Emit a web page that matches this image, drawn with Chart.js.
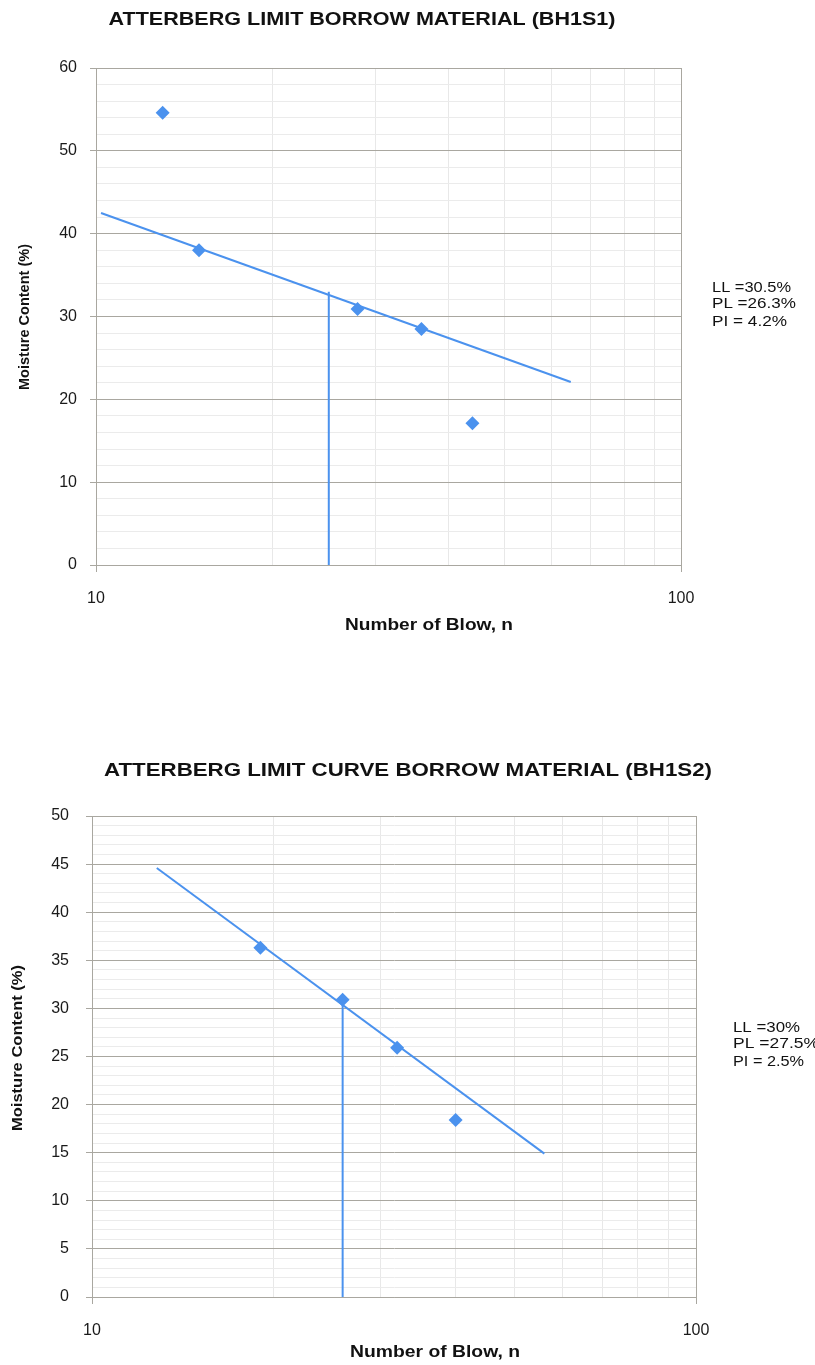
<!DOCTYPE html>
<html>
<head>
<meta charset="utf-8">
<title>Atterberg Limit Curves</title>
<script src="https://cdn.jsdelivr.net/npm/chart.js@4.4.1/dist/chart.umd.min.js"></script>
<style>
  html, body { margin: 0; padding: 0; background: #ffffff; }
  #page { position: relative; width: 815px; height: 1365px; background: #ffffff; }
  .panel { position: absolute; left: 0; }
</style>
</head>
<body>
<div id="page">
  <canvas id="chartS1" class="panel" style="top:0px" width="815" height="700"></canvas>
  <canvas id="chartS2" class="panel" style="top:700px" width="815" height="665"></canvas>
</div>
<script>
// ---- Sample BH1S1: blows vs. moisture content ----
const blowsS1 = [13, 15, 28, 36, 44];
const moistureS1 = [54.6, 38.0, 30.9, 28.5, 17.1];
// flow curve (best-fit line) end points
const fitBlowsS1 = [10.2, 64.8];
const fitMoistureS1 = [42.5, 22.1];
// liquid limit drop line at 25 blows
const llBlowsS1 = [25, 25];
const llMoistureS1 = [0, 33.0];
const limitsS1 = ['LL =30.5%', 'PL =26.3%', 'PI = 4.2%'];

// ---- Sample BH1S2 ----
const blowsS2 = [19, 26, 32, 40];
const moistureS2 = [36.3, 30.9, 25.9, 18.4];
const fitBlowsS2 = [12.8, 56.1];
const fitMoistureS2 = [44.6, 14.9];
const llBlowsS2 = [26, 26];
const llMoistureS2 = [0, 30.8];
const limitsS2 = ['LL =30%', 'PL =27.5%', 'PI = 2.5%'];

// ---- axis ticks ----
const xTickLabels = [10, 100];
const yTicksS1 = { min: 0, max: 60, major: 10, minor: 2 };
const yTicksS2 = { min: 0, max: 50, major: 5, minor: 1 };

const FONT = '"Liberation Sans", Arial, Helvetica, sans-serif';
const BLUE = '#4b92ee';
const AXIS_GREY = '#a9a7a0';
const MINOR_GREY = '#ebebeb';
const VGRID_GREY = '#e8e8e8';

// Free-positioned text: titles, axis titles and the limit values.
const textLayer = {
  id: 'textLayer',
  afterDraw(chart, args, opts) {
    const ctx = chart.ctx;
    (opts.items || []).forEach(t => {
      ctx.save();
      ctx.font = (t.bold ? 'bold ' : '') + t.size + 'px ' + FONT;
      ctx.fillStyle = t.color || '#000000';
      ctx.textBaseline = 'middle';
      ctx.textAlign = t.align || 'center';
      ctx.translate(t.x, t.y);
      if (t.rotate) ctx.rotate(t.rotate);
      if (t.width) {
        const w = ctx.measureText(t.text).width;
        ctx.scale(t.width / w, 1);
      }
      ctx.fillText(t.text, 0, 0);
      ctx.restore();
    });
  }
};

function points(xs, ys) {
  return xs.map((x, i) => ({ x: x, y: ys[i] }));
}

function buildChart(id, d, L) {
  const isMajorY = v => Math.abs(v / d.yTicks.major - Math.round(v / d.yTicks.major)) < 1e-6;
  const isLabelledX = v => xTickLabels.some(t => Math.abs(t - v) < 1e-6);

  const limitItems = d.limits.map((s, i) => ({
    text: s, x: L.limX, y: L.limY[i], size: 15, width: L.limW[i], align: 'left', color: '#111111'
  }));

  return new Chart(document.getElementById(id), {
    type: 'scatter',
    data: {
      datasets: [
        {
          label: 'Test points',
          data: points(d.blows, d.moisture),
          pointStyle: 'rectRot',
          pointRadius: 7,
          pointBackgroundColor: BLUE,
          pointBorderColor: BLUE,
          pointBorderWidth: 0,
          showLine: false
        },
        {
          label: 'Flow curve',
          data: points(d.fitBlows, d.fitMoisture),
          showLine: true,
          borderColor: BLUE,
          borderWidth: 2,
          pointRadius: 0
        },
        {
          label: 'Liquid limit',
          data: points(d.llBlows, d.llMoisture),
          showLine: true,
          borderColor: BLUE,
          borderWidth: 2,
          pointRadius: 0
        }
      ]
    },
    options: {
      responsive: false,
      animation: false,
      events: [],
      layout: { padding: { top: L.top, right: L.right, left: 0, bottom: 0 } },
      plugins: {
        legend: { display: false },
        tooltip: { enabled: false },
        textLayer: {
          items: [
            { text: d.title, x: L.titleX, y: L.titleY, size: 19, bold: true, width: L.titleW, color: '#111111' },
            { text: 'Number of Blow, n', x: L.xtX, y: L.xtY, size: 17, bold: true, width: L.xtW, color: '#111111' },
            { text: 'Moisture Content (%)', x: L.ytX, y: L.ytY, size: 15, bold: true, width: L.ytW, rotate: -Math.PI / 2, color: '#111111' }
          ].concat(limitItems)
        }
      },
      scales: {
        x: {
          type: 'logarithmic',
          min: 10,
          max: 100,
          afterBuildTicks(scale) {
            const t = [];
            for (let k = 1; k <= 10; k++) t.push({ value: k * 10 });
            scale.ticks = t;
          },
          afterFit(scale) { scale.height = L.xAxisH; },
          ticks: {
            autoSkip: false,
            maxRotation: 0,
            padding: L.xPad,
            color: '#1a1a1a',
            font: { family: FONT, size: 16 },
            callback: v => (isLabelledX(v) ? String(Math.round(v)) : '')
          },
          grid: {
            color: c => (isLabelledX(c.tick.value) ? AXIS_GREY : VGRID_GREY),
            tickColor: c => (isLabelledX(c.tick.value) ? AXIS_GREY : 'rgba(0,0,0,0)'),
            tickLength: 7,
            lineWidth: 1
          },
          border: { color: AXIS_GREY, width: 1 }
        },
        y: {
          type: 'linear',
          min: d.yTicks.min,
          max: d.yTicks.max,
          afterFit(scale) { scale.width = L.left; },
          ticks: {
            stepSize: d.yTicks.minor,
            autoSkip: false,
            padding: L.yPad,
            color: '#1a1a1a',
            font: { family: FONT, size: 16 },
            callback: v => (isMajorY(v) ? String(Math.round(v)) : '')
          },
          grid: {
            color: c => (isMajorY(c.tick.value) ? AXIS_GREY : MINOR_GREY),
            tickColor: c => (isMajorY(c.tick.value) ? AXIS_GREY : 'rgba(0,0,0,0)'),
            tickLength: 6,
            lineWidth: 1
          },
          border: { color: AXIS_GREY, width: 1 }
        }
      }
    },
    plugins: [textLayer]
  });
}

buildChart('chartS1', {
  title: 'ATTERBERG LIMIT BORROW MATERIAL (BH1S1)',
  blows: blowsS1, moisture: moistureS1,
  fitBlows: fitBlowsS1, fitMoisture: fitMoistureS1,
  llBlows: llBlowsS1, llMoisture: llMoistureS1,
  limits: limitsS1, yTicks: yTicksS1
}, {
  top: 68, right: 134, left: 96, xAxisH: 135, xPad: 17, yPad: 13,
  titleX: 362, titleY: 20, titleW: 507,
  xtX: 429, xtY: 625, xtW: 168,
  ytX: 25, ytY: 317, ytW: 146,
  limX: 712, limY: [288, 304, 322], limW: [79, 84, 75]
});

buildChart('chartS2', {
  title: 'ATTERBERG LIMIT CURVE BORROW MATERIAL (BH1S2)',
  blows: blowsS2, moisture: moistureS2,
  fitBlows: fitBlowsS2, fitMoisture: fitMoistureS2,
  llBlows: llBlowsS2, llMoisture: llMoistureS2,
  limits: limitsS2, yTicks: yTicksS2
}, {
  top: 116, right: 119, left: 92, xAxisH: 68, xPad: 17, yPad: 17,
  titleX: 408, titleY: 71, titleW: 608,
  xtX: 435, xtY: 652, xtW: 170,
  ytX: 18, ytY: 348, ytW: 166,
  limX: 733, limY: [328, 344, 362], limW: [67, 86, 71]
});
</script>
</body>
</html>
